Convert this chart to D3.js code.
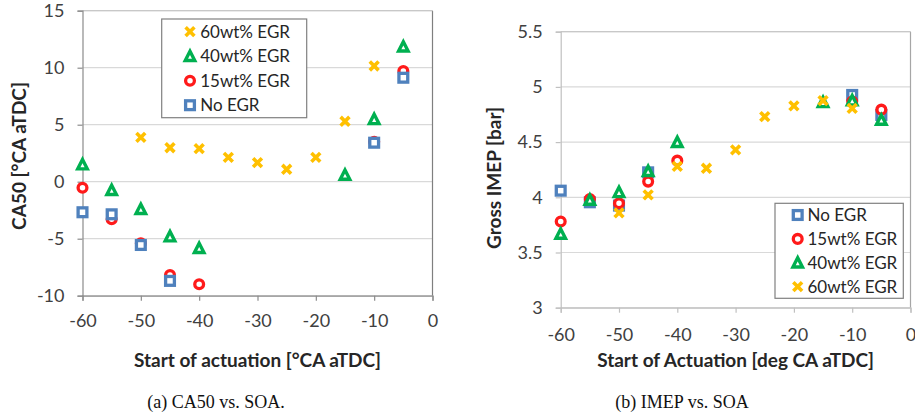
<!DOCTYPE html>
<html>
<head>
<meta charset="utf-8">
<script src="https://cdn.jsdelivr.net/npm/d3@7"></script>
<style>
  html, body { margin: 0; padding: 0; background: #fff; }
  svg { display: block; }
  .tick-label { font-family: Lato, "Open Sans", sans-serif; font-size: 18px; fill: #404040; }
  .axis-title { font-family: Lato, "Open Sans", sans-serif; font-size: 19px; font-weight: bold; fill: #262626; }
  .legend-text { font-family: Lato, "Open Sans", sans-serif; font-size: 17px; fill: #262626; }
  .caption { font-family: "Liberation Serif", "DejaVu Serif", serif; font-size: 18px; fill: #111; }
</style>
</head>
<body>
<svg id="chart" width="915" height="417"></svg>
<script>
// Start of actuation tick positions shared by both panels
const xTicks = [-60, -50, -40, -30, -20, -10, 0];

// (a) CA50 [°CA aTDC]
const ca50Ticks = [-10, -5, 0, 5, 10, 15];
const ca50NoEgr  = [[-60, -2.68], [-55, -2.86], [-50, -5.55], [-45, -8.70], [-10, 3.42], [-5, 9.12]];
const ca50Egr15  = [[-60, -0.53], [-55, -3.30], [-50, -5.40], [-45, -8.18], [-40, -9.00], [-10, 3.50], [-5, 9.71]];
const ca50Egr40  = [[-60, 1.50], [-55, -0.75], [-50, -2.42], [-45, -4.82], [-40, -5.84], [-15, 0.59], [-10, 5.47], [-5, 11.84]];
const ca50Egr60  = [[-50, 3.89], [-45, 2.98], [-40, 2.90], [-35, 2.14], [-30, 1.67], [-25, 1.09], [-20, 2.14], [-15, 5.30], [-10, 10.15]];

// (b) Gross IMEP [bar]
const imepTicks = [3, 3.5, 4, 4.5, 5, 5.5];
const imepNoEgr = [[-60, 4.06], [-55, 3.955], [-50, 3.925], [-45, 4.226], [-10, 4.927], [-5, 4.746]];
const imepEgr15 = [[-60, 3.78], [-55, 3.985], [-50, 3.946], [-45, 4.142], [-40, 4.332], [-10, 4.867], [-5, 4.794]];
const imepEgr40 = [[-60, 3.668], [-55, 3.976], [-50, 4.045], [-45, 4.236], [-40, 4.498], [-15, 4.86], [-10, 4.876], [-5, 4.70]];
const imepEgr60 = [[-50, 3.859], [-45, 4.022], [-40, 4.28], [-35, 4.263], [-30, 4.43], [-25, 4.731], [-20, 4.828], [-15, 4.876], [-10, 4.806]];

const colors = { "No EGR": "#4f81bd", "15wt% EGR": "#ff1a1a", "40wt% EGR": "#00b050", "60wt% EGR": "#ffc000" };
const shapes = { "No EGR": "square", "15wt% EGR": "circle", "40wt% EGR": "triangle", "60wt% EGR": "cross" };

// plain hyphen-minus, no trailing zeros (e.g. "-10", "4", "3.5")
const plainFormat = d => String(d);

const svg = d3.select("#chart");

function drawMarker(g, name, x, y) {
  const c = colors[name];
  const s = shapes[name];
  if (s === "square") {
    g.append("rect").attr("x", x - 4.4).attr("y", y - 4.4).attr("width", 8.8).attr("height", 8.8)
      .attr("fill", "#fff").attr("stroke", c).attr("stroke-width", 3.3);
  } else if (s === "circle") {
    g.append("circle").attr("cx", x).attr("cy", y).attr("r", 4.4)
      .attr("fill", "#fff").attr("stroke", c).attr("stroke-width", 3.3);
  } else if (s === "triangle") {
    const h = 8.5, w = 9.5;
    g.append("path")
      .attr("d", `M${x},${y - h / 2 - 0.8}L${x + w / 2},${y + h / 2}L${x - w / 2},${y + h / 2}Z`)
      .attr("fill", "#fff").attr("stroke", c).attr("stroke-width", 3.4).attr("stroke-linejoin", "miter");
  } else {
    const r = 4.4;
    g.append("path")
      .attr("d", `M${x - r},${y - r}L${x + r},${y + r}M${x + r},${y - r}L${x - r},${y + r}`)
      .attr("stroke", c).attr("stroke-width", 3.6).attr("fill", "none");
  }
}

function drawPanel(cfg) {
  const g = svg.append("g");
  const x = d3.scaleLinear().domain([-60, 0]).range(cfg.xRange);
  const y = d3.scaleLinear().domain(cfg.yDomain).range(cfg.yRange);
  const [x0, x1] = cfg.xRange;
  const [yb, yt] = cfg.yRange;

  // horizontal gridlines
  g.selectAll(".grid").data(cfg.yTicks).join("line")
    .attr("x1", x0).attr("x2", x1)
    .attr("y1", d => y(d)).attr("y2", d => y(d))
    .attr("stroke", "#d9d9d9").attr("stroke-width", 1.2);

  // plot frame
  g.append("line").attr("x1", x1).attr("x2", x1).attr("y1", yt).attr("y2", yb)
    .attr("stroke", cfg.frameColor).attr("stroke-width", 1.2);
  g.append("line").attr("x1", x0).attr("x2", x1).attr("y1", yt).attr("y2", yt)
    .attr("stroke", cfg.topColor).attr("stroke-width", 1.2);

  // y axis
  const yAxis = d3.axisLeft(y).tickValues(cfg.yTicks).tickSize(5).tickPadding(cfg.yPad).tickFormat(plainFormat);
  const ya = g.append("g").attr("transform", `translate(${x0},0)`).call(yAxis);
  ya.select(".domain").attr("stroke", cfg.axisColor).attr("stroke-width", 1.2);
  ya.selectAll(".tick line").attr("stroke", cfg.axisColor).attr("stroke-width", 1.2);
  ya.selectAll(".tick text").attr("class", "tick-label").attr("fill", null);
  ya.attr("font-size", null).attr("font-family", null);

  // x axis
  const xAxis = d3.axisBottom(x).tickValues(xTicks).tickSize(5).tickPadding(cfg.xPad).tickFormat(plainFormat);
  const xa = g.append("g").attr("transform", `translate(0,${yb})`).call(xAxis);
  xa.select(".domain").attr("stroke", cfg.axisColor).attr("stroke-width", 1.2);
  xa.selectAll(".tick line").attr("stroke", cfg.axisColor).attr("stroke-width", 1.2);
  xa.selectAll(".tick text").attr("class", "tick-label").attr("fill", null);
  xa.attr("font-size", null).attr("font-family", null);

  // axis titles
  g.append("text").attr("class", "axis-title")
    .attr("x", (x0 + x1) / 2).attr("y", 367).attr("text-anchor", "middle").text(cfg.xTitle);
  g.append("text").attr("class", "axis-title")
    .attr("transform", `translate(${cfg.yTitleX},${cfg.yTitleY}) rotate(-90)`)
    .attr("text-anchor", "middle").text(cfg.yTitle);

  // markers, drawn in series order so later series sit on top
  cfg.drawOrder.forEach(name => {
    const mg = g.append("g");
    cfg.series[name].forEach(([sx, sy]) => drawMarker(mg, name, x(sx), y(sy)));
  });

  // legend
  const L = cfg.legend;
  const lg = g.append("g");
  lg.append("rect").attr("x", L.x).attr("y", L.y).attr("width", L.w).attr("height", L.h)
    .attr("fill", "#fff").attr("stroke", "#808080").attr("stroke-width", 1.2);
  L.order.forEach((name, i) => {
    const cy = L.y + L.first + i * L.step;
    drawMarker(lg, name, L.x + L.markerDx, cy);
    lg.append("text").attr("class", "legend-text")
      .attr("x", L.x + L.textDx).attr("y", cy).attr("dy", "0.35em").text(name);
  });

  // caption
  svg.append("text").attr("class", "caption").attr("x", cfg.captionX).attr("y", 408)
    .attr("text-anchor", "middle").text(cfg.caption);
}

drawPanel({
  xRange: [82.5, 432.5], yDomain: [-10, 15], yRange: [295.7, 10.7], yTicks: ca50Ticks,
  axisColor: "#8c8c8c", frameColor: "#7f7f7f", topColor: "#c8c8c8", yPad: 13, xPad: 14,
  xTitle: "Start of actuation [°CA aTDC]", yTitle: "CA50 [°CA aTDC]", yTitleX: 26, yTitleY: 156,
  series: { "No EGR": ca50NoEgr, "15wt% EGR": ca50Egr15, "40wt% EGR": ca50Egr40, "60wt% EGR": ca50Egr60 },
  drawOrder: ["60wt% EGR", "40wt% EGR", "15wt% EGR", "No EGR"],
  legend: { x: 161.7, y: 19, w: 145, h: 98.7, first: 12.7, step: 24.5, markerDx: 28.3, textDx: 38.5,
            order: ["60wt% EGR", "40wt% EGR", "15wt% EGR", "No EGR"] },
  caption: "(a) CA50 vs. SOA.", captionX: 216
});

drawPanel({
  xRange: [560.7, 910.5], yDomain: [3, 5.5], yRange: [307.7, 31.7], yTicks: imepTicks,
  axisColor: "#c0c0c0", frameColor: "#a6a6a6", topColor: "#c8c8c8", yPad: 13, xPad: 16,
  xTitle: "Start of Actuation [deg CA aTDC]", yTitle: "Gross IMEP [bar]", yTitleX: 501, yTitleY: 178,
  series: { "No EGR": imepNoEgr, "15wt% EGR": imepEgr15, "40wt% EGR": imepEgr40, "60wt% EGR": imepEgr60 },
  drawOrder: ["No EGR", "15wt% EGR", "40wt% EGR", "60wt% EGR"],
  legend: { x: 775, y: 203.3, w: 128.3, h: 95, first: 11.7, step: 23.9, markerDx: 22.7, textDx: 32.5,
            order: ["No EGR", "15wt% EGR", "40wt% EGR", "60wt% EGR"] },
  caption: "(b) IMEP vs. SOA", captionX: 682
});
</script>
</body>
</html>
